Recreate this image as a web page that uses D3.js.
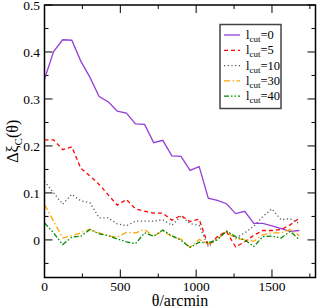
<!DOCTYPE html>
<html>
<head>
<meta charset="utf-8">
<script src="https://cdn.jsdelivr.net/npm/d3@7"></script>
<style>
  body { margin: 0; background: #fff; }
  svg { display: block; font-family: "Liberation Serif", "DejaVu Serif", serif; }
</style>
</head>
<body>
<svg id="chart" width="319" height="308"></svg>
<script>
// theta in arcmin
let theta = d3.range(0, 1681, 60);

let lcut0 = [0.342, 0.401, 0.426, 0.425, 0.380, 0.346, 0.305, 0.294, 0.274, 0.270, 0.247, 0.246, 0.207, 0.212, 0.179, 0.178, 0.148, 0.156, 0.089, 0.084, 0.077, 0.056, 0.061, 0.035, 0.035, 0.030, 0.024, 0.018, 0.020];
let lcut5 = [0.213, 0.213, 0.192, 0.198, 0.152, 0.136, 0.118, 0.096, 0.074, 0.086, 0.066, 0.061, 0.057, 0.057, 0.042, 0.052, 0.039, 0.044, -0.012, 0.007, 0.018, -0.015, -0.004, 0.010, 0.020, 0.020, 0.022, 0.032, 0.046];
let lcut10 = [0.125, 0.100, 0.076, 0.097, 0.083, 0.079, 0.047, 0.047, 0.034, 0.030, 0.040, 0.040, 0.040, 0.043, 0.031, 0.051, 0.035, 0.031, -0.015, 0.004, 0.018, 0.004, 0.015, 0.029, 0.050, 0.066, 0.043, 0.045, 0.035];
let lcut30 = [0.075, 0.040, 0.004, 0.009, 0.015, 0.023, 0.015, 0.009, 0.006, 0.016, 0.015, 0.022, 0.008, 0.019, 0.007, 0.002, -0.016, 0.001, -0.008, 0.002, 0.018, 0.002, 0.001, -0.003, 0.011, 0.015, 0.015, 0.022, 0.009];
let lcut40 = [0.036, 0.015, -0.010, 0.006, 0.008, 0.022, 0.013, 0.009, 0.002, -0.004, -0.008, 0.015, 0.008, 0.021, 0.009, -0.001, -0.016, -0.005, -0.006, 0.000, 0.019, 0.007, 0.000, -0.014, 0.007, 0.008, 0.004, 0.018, 0.001];

let cutLabels = ["0", "5", "10", "30", "40"];
let xTicks = [0, 500, 1000, 1500];
let yTicks = [0, 0.1, 0.2, 0.3, 0.4, 0.5];

let series = [
  { cut: cutLabels[0], values: lcut0, color: "#9440d8", dash: null },
  { cut: cutLabels[1], values: lcut5, color: "#ff0000", dash: "4,3" },
  { cut: cutLabels[2], values: lcut10, color: "#555555", dash: "1.2,2.5" },
  { cut: cutLabels[3], values: lcut30, color: "#ffa500", dash: "6,2.5,1.5,2.5" },
  { cut: cutLabels[4], values: lcut40, color: "#008b00", dash: "5,2,1.5,2,1.5,2" },
];

let margin = { top: 5, right: 3.5, bottom: 30.5, left: 44.5 };
let width = 319, height = 308;
let x = d3.scaleLinear().domain([0, 1787]).range([margin.left, width - margin.right]);
let y = d3.scaleLinear().domain([-0.08, 0.5]).range([height - margin.bottom, margin.top]);

let svg = d3.select("#chart");

// ticks pointing inward on all four sides
let majorLen = 8, minorLen = 4;
let xMinor = d3.range(250, 1787, 500);
let yMinor = d3.range(-0.05, 0.5, 0.1);

let ticks = svg.append("g").attr("stroke", "#000").attr("stroke-width", 1);
xTicks.forEach(t => {
  ticks.append("line").attr("x1", x(t)).attr("x2", x(t)).attr("y1", y.range()[0]).attr("y2", y.range()[0] - majorLen);
  ticks.append("line").attr("x1", x(t)).attr("x2", x(t)).attr("y1", y.range()[1]).attr("y2", y.range()[1] + majorLen);
});
xMinor.forEach(t => {
  ticks.append("line").attr("x1", x(t)).attr("x2", x(t)).attr("y1", y.range()[0]).attr("y2", y.range()[0] - minorLen);
  ticks.append("line").attr("x1", x(t)).attr("x2", x(t)).attr("y1", y.range()[1]).attr("y2", y.range()[1] + minorLen);
});
yTicks.forEach(t => {
  ticks.append("line").attr("x1", x.range()[0]).attr("x2", x.range()[0] + majorLen).attr("y1", y(t)).attr("y2", y(t));
  ticks.append("line").attr("x1", x.range()[1]).attr("x2", x.range()[1] - majorLen).attr("y1", y(t)).attr("y2", y(t));
});
yMinor.forEach(t => {
  ticks.append("line").attr("x1", x.range()[0]).attr("x2", x.range()[0] + minorLen).attr("y1", y(t)).attr("y2", y(t));
  ticks.append("line").attr("x1", x.range()[1]).attr("x2", x.range()[1] - minorLen).attr("y1", y(t)).attr("y2", y(t));
});

// tick labels
svg.append("g").selectAll("text").data(xTicks).join("text")
  .attr("x", d => x(d)).attr("y", 291).attr("text-anchor", "middle")
  .attr("font-size", 13.5).text(d => d);
svg.append("g").selectAll("text").data(yTicks).join("text")
  .attr("x", 40).attr("y", d => y(d) + 4.8).attr("text-anchor", "end")
  .attr("font-size", 13.5).text(d => d === 0 ? "0" : d3.format(".1f")(d));

// lines
let line = d3.line().x((d, i) => x(theta[i])).y(d => y(d));
let plot = svg.append("g");
series.forEach(s => {
  plot.append("path").datum(s.values).attr("d", line)
    .attr("fill", "none").attr("stroke", s.color).attr("stroke-width", 1.3)
    .attr("stroke-dasharray", s.dash);
});

// frame
svg.append("rect")
  .attr("x", x.range()[0]).attr("y", y.range()[1])
  .attr("width", x.range()[1] - x.range()[0]).attr("height", y.range()[0] - y.range()[1])
  .attr("fill", "none").attr("stroke", "#000").attr("stroke-width", 1.5);

// axis titles
svg.append("text").attr("x", (x.range()[0] + x.range()[1]) / 2).attr("y", 306)
  .attr("text-anchor", "middle").attr("font-size", 16).text("θ/arcmin");

let yt = svg.append("text").attr("transform", `translate(18,${(y.range()[0] + y.range()[1]) / 2}) rotate(-90)`)
  .attr("text-anchor", "middle").attr("font-size", 16);
yt.append("tspan").text("Δξ");
yt.append("tspan").attr("font-size", 11).attr("dy", 4).text("C");
yt.append("tspan").attr("dy", -4).text("(θ)");

// legend
let legend = svg.append("g");
legend.append("rect").attr("x", 220).attr("y", 24.5).attr("width", 61).attr("height", 84)
  .attr("fill", "#fff").attr("stroke", "#444").attr("stroke-width", 1.5);
series.forEach((s, i) => {
  let ry = 35 + i * 15.3;
  legend.append("line").attr("x1", 224).attr("x2", 240).attr("y1", ry).attr("y2", ry)
    .attr("stroke", s.color).attr("stroke-width", 1.3).attr("stroke-dasharray", s.dash);
  let t = legend.append("text").attr("x", 246).attr("y", ry + 4).attr("font-size", 12.5);
  t.append("tspan").text("l");
  t.append("tspan").attr("font-size", 9).attr("dy", 3).text("cut");
  t.append("tspan").attr("dy", -3).text("=" + s.cut);
});
</script>
</body>
</html>
